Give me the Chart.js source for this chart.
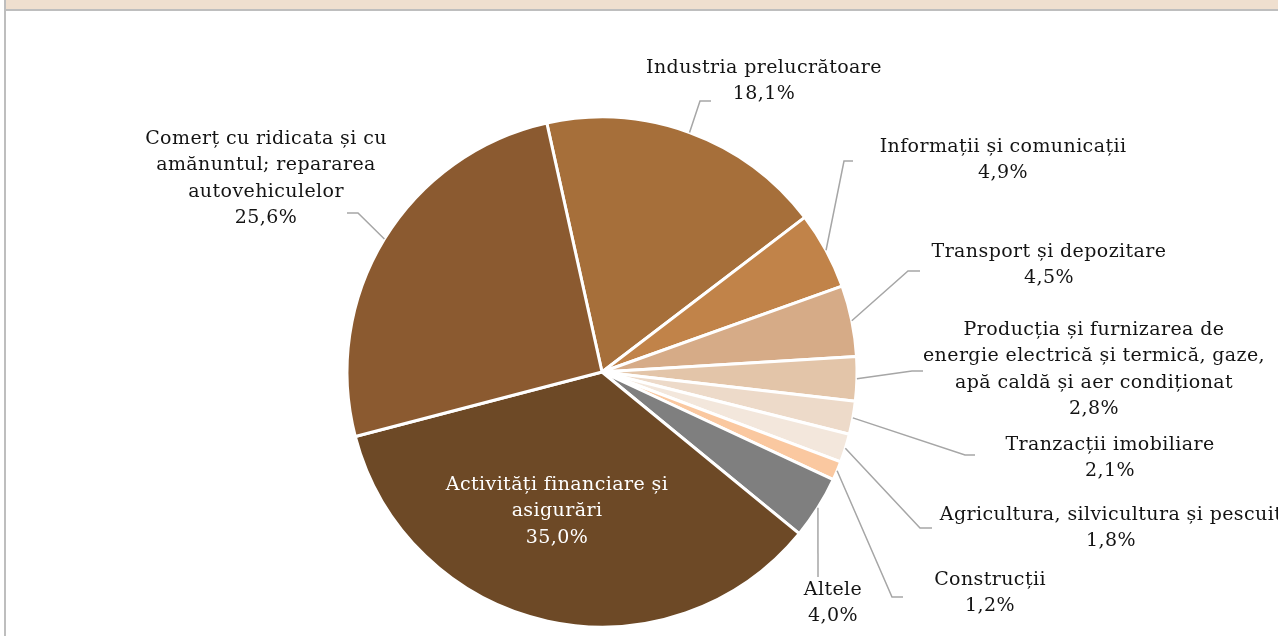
<!DOCTYPE html>
<html><head><meta charset="utf-8">
<script src="https://cdn.jsdelivr.net/npm/chart.js@4"></script>
<style>
html,body{margin:0;padding:0;background:#fff;}
#wrap{position:relative;width:1278px;height:636px;overflow:hidden;}
#band{position:absolute;left:6px;top:0;width:1272px;height:9px;background:#EFDFCF;}
#hline{position:absolute;left:4px;top:9px;width:1274px;height:2px;background:#BEBEBE;}
#vline{position:absolute;left:4px;top:0;width:2px;height:636px;background:#BEBEBE;}
canvas{position:absolute;left:0;top:0;}
</style></head><body>
<div id="wrap"><div id="band"></div><div id="hline"></div><div id="vline"></div><canvas id="c" width="1278" height="636"></canvas></div>
<script>
const categories = [
  "Industria prelucrătoare",
  "Informații și comunicații",
  "Transport și depozitare",
  "Producția și furnizarea de energie electrică și termică, gaze, apă caldă și aer condiționat",
  "Tranzacții imobiliare",
  "Agricultura, silvicultura și pescuit",
  "Construcții",
  "Altele",
  "Activități financiare și asigurări",
  "Comerț cu ridicata și cu amănuntul; repararea autovehiculelor"
];
const values = [18.1, 4.9, 4.5, 2.8, 2.1, 1.8, 1.2, 4.0, 35.0, 25.6];
const colors = ["#A66F3A","#C18349","#D6AB87","#E3C5A9","#EDDAC9","#F3E7DC","#FAC8A0","#7F7F7F","#6D4926","#8B5A30"];

// label layout: wrapped lines, text centre x, first line y, leader elbow & end
const labelLayout = [
  {lines:["Industria prelucrătoare"], x:764, y:68, ex:700, ey:101, hx:711},
  {lines:["Informații și comunicații"], x:1003, y:147, ex:844, ey:161, hx:853},
  {lines:["Transport și depozitare"], x:1049, y:252, ex:908, ey:271, hx:920},
  {lines:["Producția și furnizarea de","energie electrică și termică, gaze,","apă caldă și aer condiționat"], x:1094, y:330, ex:912, ey:371, hx:923},
  {lines:["Tranzacții imobiliare"], x:1110, y:445, ex:965, ey:455, hx:975},
  {lines:["Agricultura, silvicultura și pescuit"], x:1111, y:515, ex:920, ey:528, hx:932},
  {lines:["Construcții"], x:990, y:580, ex:892, ey:597, hx:903},
  {lines:["Altele"], x:833, y:590, ex:818, ey:577, hx:818},
  {lines:["Activități financiare și","asigurări"], x:557, y:485, inside:true},
  {lines:["Comerț cu ridicata și cu","amănuntul; repararea","autovehiculelor"], x:266, y:139, ex:358, ey:213, hx:347}
];

const FONT = '19px "DejaVu Serif"';
const LINE_H = 26.5;

const labelPlugin = {
  id: 'pieLabels',
  afterDatasetsDraw(chart) {
    const ctx = chart.ctx;
    const meta = chart.getDatasetMeta(0);
    const ds = chart.data.datasets[0];
    ctx.save();
    meta.data.forEach((arc, i) => {
      const L = labelLayout[i];
      const p = arc.getProps(['x','y','startAngle','endAngle','outerRadius']);
      const mid = (p.startAngle + p.endAngle) / 2;
      if (!L.inside) {
        const sx = p.x + Math.cos(mid) * p.outerRadius;
        const sy = p.y + Math.sin(mid) * p.outerRadius;
        ctx.strokeStyle = '#A6A6A6';
        ctx.lineWidth = 1.5;
        ctx.beginPath();
        ctx.moveTo(sx, sy);
        ctx.lineTo(L.ex, L.ey);
        ctx.lineTo(L.hx, L.ey);
        ctx.stroke();
      }
      const pct = ds.data[i].toFixed(1).replace('.', ',') + '%';
      const lines = L.lines.concat([pct]);
      ctx.font = FONT;
      if ('letterSpacing' in ctx) ctx.letterSpacing = '0.4px';
      ctx.fillStyle = L.inside ? '#FFFFFF' : '#141414';
      ctx.textAlign = 'center';
      ctx.textBaseline = 'middle';
      lines.forEach((t, k) => ctx.fillText(t, L.x, L.y + k * LINE_H));
    });
    ctx.restore();
  }
};

new Chart(document.getElementById('c'), {
  type: 'pie',
  data: {
    labels: categories,
    datasets: [{
      data: values,
      backgroundColor: colors,
      borderColor: '#FFFFFF',
      borderWidth: 3
    }]
  },
  options: {
    responsive: false,
    devicePixelRatio: 1,
    animation: false,
    rotation: -12.5,
    layout: { padding: { left: 0, right: 74, top: 115.5, bottom: 7.5 } },
    plugins: { legend: { display: false }, tooltip: { enabled: false } },
    events: []
  },
  plugins: [labelPlugin]
});
</script>
</body></html>
